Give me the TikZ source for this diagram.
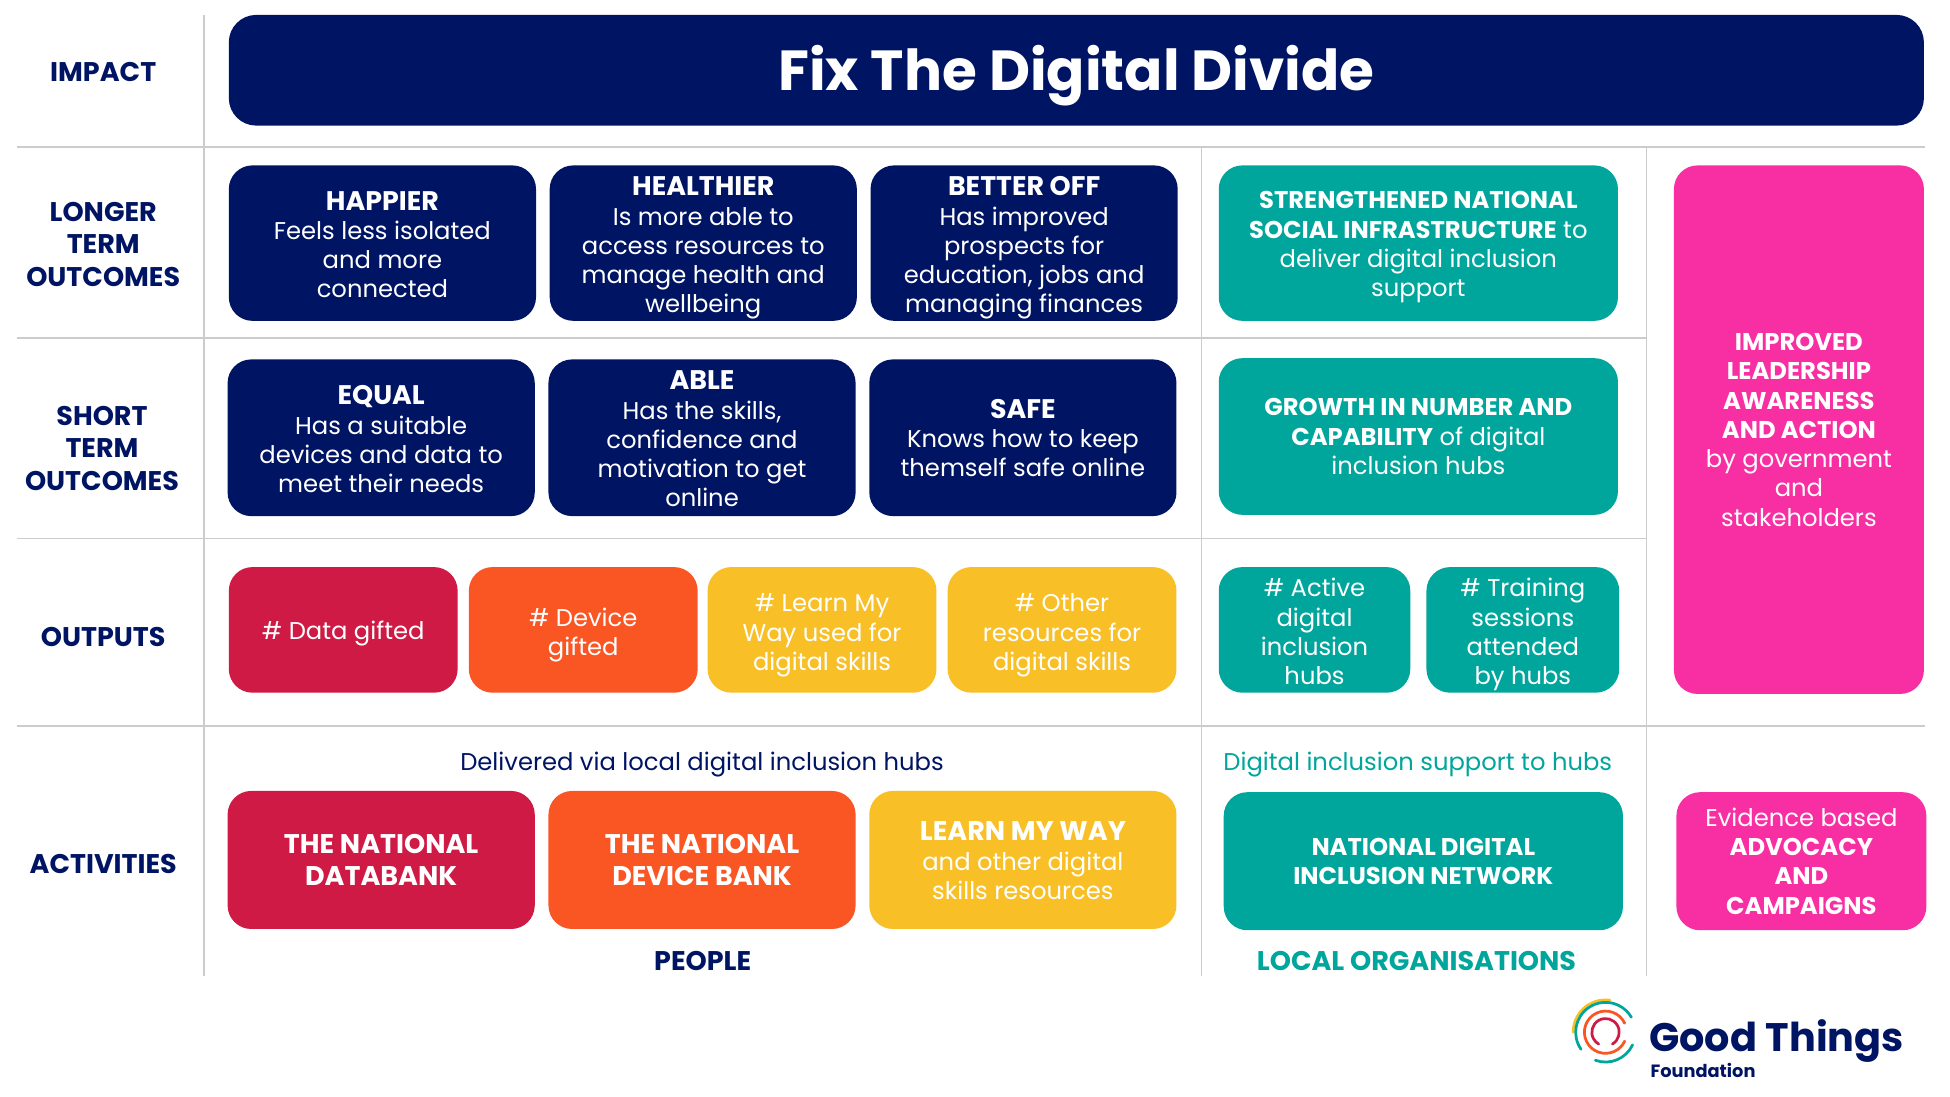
\documentclass[tikz,border=0pt]{standalone}
\usepackage{fontspec}
\setmainfont{Poppins}
\definecolor{navy}{HTML}{001464}
\definecolor{teal2}{HTML}{00A69C}
\definecolor{pink2}{HTML}{F72FA3}
\definecolor{red2}{HTML}{CE1A44}
\definecolor{orange2}{HTML}{F95624}
\definecolor{yellow2}{HTML}{F8BF27}
\definecolor{rule2}{HTML}{CCCCCC}
\newcommand{\hd}[1]{{\bfseries\fontsize{21.6}{23.5}\selectfont #1}}
\newcommand{\hs}[1]{{\bfseries\fontsize{19.5}{23.5}\selectfont #1}}
\newcommand{\hdl}[1]{{\bfseries\fontsize{21.7}{26}\selectfont #1}}
\tikzset{
 x=1pt,y=-1pt,
 lastbase/.style={execute at begin node={\rule[-6pt]{0pt}{\dimexpr 12pt+#1pt+#1pt\relax}}},
 card/.style={rounded corners=19pt,text=white,align=center,inner sep=0pt,font=\fontsize{19.5}{23.5}\selectfont},
 navycard/.style={card,fill=navy},
 tealcard/.style={card,fill=teal2},
 pinkcard/.style={card,fill=pink2},
 redcard/.style={card,fill=red2},
 orangecard/.style={card,fill=orange2},
 yellowcard/.style={card,fill=yellow2},
 rowlabel/.style={text=navy,align=center,inner sep=0pt,font=\bfseries\fontsize{21.7}{26}\selectfont},
 rule/.style={draw=rule2,line width=1.3pt},
 logoarc/.style={line width=2.2pt,line cap=round},
}
\begin{document}
\begin{tikzpicture}
\useasboundingbox[fill=white] (0,0) rectangle (1568,882);
% grid
\draw[rule] (164,12) -- (164,785);
\draw[rule] (966,118) -- (966,785);
\draw[rule] (1324,118) -- (1324,785);
\draw[rule] (14,118) -- (1548,118);
\draw[rule] (14,272) -- (1324,272);
\draw[rule] (14,433) -- (1324,433);
\draw[rule] (14,584) -- (1548,584);
% row labels
\node[rowlabel] (limpact) at (83,58) {IMPACT};
\node[rowlabel] (llong) at (83,196.5) {LONGER\\TERM\\OUTCOMES};
\node[rowlabel] (lshort) at (82,360.5) {SHORT\\TERM\\OUTCOMES};
\node[rowlabel] (loutputs) at (83,512) {OUTPUTS};
\node[rowlabel] (lactivities) at (83,695) {ACTIVITIES};
% impact
\node[navycard,lastbase=16.5,minimum width=1363pt,minimum height=89pt,rounded corners=22pt,font=\bfseries\fontsize{45.4}{50}\selectfont] (impact) at (865.5,56.5) {\smash{Fix The Digital Divide}};
% longer term
\node[navycard,lastbase=44,minimum width=247pt,minimum height=125pt] (happier) at (307.5,195.5) {\hd{HAPPIER}\\Feels less isolated\\and more\\connected};
\node[navycard,lastbase=56,minimum width=247pt,minimum height=125pt] (healthier) at (565.5,195.5) {\hd{HEALTHIER}\\Is more able to\\access resources to\\manage health and\\wellbeing};
\node[navycard,lastbase=56,minimum width=247pt,minimum height=125pt] (better) at (823.5,195.5) {\hd{BETTER OFF}\\Has improved\\prospects for\\education, jobs and\\managing finances};
\node[tealcard,lastbase=43,minimum width=321pt,minimum height=125pt] (strength) at (1140.5,195.5) {\hs{STRENGTHENED NATIONAL}\\\hs{SOCIAL INFRASTRUCTURE} to\\deliver digital inclusion\\support};
% short term
\node[navycard,lastbase=44,minimum width=247pt,minimum height=126pt] (equal) at (306.5,352) {\hd{EQUAL}\\Has a suitable\\devices and data to\\meet their needs};
\node[navycard,lastbase=55.5,minimum width=247pt,minimum height=126pt] (able) at (564.5,352) {\hd{ABLE}\\Has the skills,\\confidence and\\motivation to get\\online};
\node[navycard,lastbase=31.5,minimum width=247pt,minimum height=126pt] (safe) at (822.5,352) {\hd{SAFE}\\Knows how to keep\\themself safe online};
\node[tealcard,lastbase=30.5,minimum width=321pt,minimum height=126pt] (growth) at (1140.5,351) {\hs{GROWTH IN NUMBER AND}\\\hs{CAPABILITY} of digital\\inclusion hubs};
% pink
\node[pinkcard,lastbase=77.5,minimum width=201pt,minimum height=425pt] (leader) at (1446.5,345.5) {\hs{IMPROVED}\\\hs{LEADERSHIP}\\\hs{AWARENESS}\\\hs{AND ACTION}\\by government\\and\\stakeholders};
% outputs
\node[redcard,lastbase=7.5,minimum width=184pt,minimum height=101pt] (data) at (276,506.5) {\# Data gifted};
\node[orangecard,lastbase=20.5,minimum width=184pt,minimum height=101pt] (device) at (469,506.5) {\# Device\\gifted};
\node[yellowcard,lastbase=32.5,minimum width=184pt,minimum height=101pt] (learn) at (661,506.5) {\# Learn My\\Way used for\\digital skills};
\node[yellowcard,lastbase=32.5,minimum width=184pt,minimum height=101pt] (other) at (854,506.5) {\# Other\\resources for\\digital skills};
\node[tealcard,lastbase=44,minimum width=154pt,minimum height=101pt] (active) at (1057,506.5) {\# Active\\digital\\inclusion\\hubs};
\node[tealcard,lastbase=44,minimum width=155pt,minimum height=101pt] (training) at (1224.5,506.5) {\# Training\\sessions\\attended\\by hubs};
% activities
\node[inner sep=0pt,text=navy,font=\fontsize{19.5}{23}\selectfont] (via) at (564.5,614.5) {Delivered via local digital inclusion hubs};
\node[inner sep=0pt,text=teal2,font=\fontsize{19.5}{23}\selectfont] (support) at (1140,614.5) {Digital inclusion support to hubs};
\node[redcard,lastbase=20.5,minimum width=247pt,minimum height=111pt] (databank) at (306.5,691.5) {\hdl{THE NATIONAL}\\[2.5pt]\hdl{DATABANK}};
\node[orangecard,lastbase=20.5,minimum width=247pt,minimum height=111pt] (devicebank) at (564.5,691.5) {\hdl{THE NATIONAL}\\[2.5pt]\hdl{DEVICE BANK}};
\node[yellowcard,lastbase=32,minimum width=247pt,minimum height=111pt] (lmw) at (822.5,691.5) {\hdl{LEARN MY WAY}\\[1pt]and other digital\\skills resources};
\node[tealcard,lastbase=19,minimum width=321pt,minimum height=111pt] (network) at (1144.5,692.5) {\hs{NATIONAL DIGITAL}\\\hs{INCLUSION NETWORK}};
\node[pinkcard,lastbase=42.5,minimum width=201pt,minimum height=111pt] (advocacy) at (1448.5,692.5) {Evidence based\\\hs{ADVOCACY}\\\hs{AND}\\\hs{CAMPAIGNS}};
\node[inner sep=0pt,text=navy,font=\bfseries\fontsize{21.7}{26}\selectfont] (people) at (565,773) {PEOPLE};
\node[inner sep=0pt,text=teal2,font=\bfseries\fontsize{21.7}{26}\selectfont] (local) at (1139,773) {LOCAL ORGANISATIONS};
% logo
\begin{scope}[shift={(1291,830)},x=1pt,y=1pt]
\draw[logoarc,draw=yellow2] (180:26) arc[start angle=180,end angle=82,radius=26pt];
\draw[logoarc,draw=teal2] (215:24) arc[start angle=215,end angle=30,radius=24pt];
\draw[logoarc,draw=teal2] (250:24) arc[start angle=250,end angle=335,radius=24pt];
\draw[logoarc,draw=orange2] (25:17) arc[start angle=25,end angle=335,radius=17pt];
\draw[logoarc,draw=red2] (-60:11) arc[start angle=-60,end angle=240,radius=11pt];
\end{scope}
\node[anchor=west,inner sep=0pt,text=navy,font=\fontsize{32}{36}\selectfont\bfseries] (gt) at (1326,837) {Good Things};
\node[anchor=west,inner sep=0pt,text=navy,font=\fontsize{14.3}{16}\selectfont\bfseries] (fnd) at (1327,861) {Foundation};
\end{tikzpicture}
\end{document}
